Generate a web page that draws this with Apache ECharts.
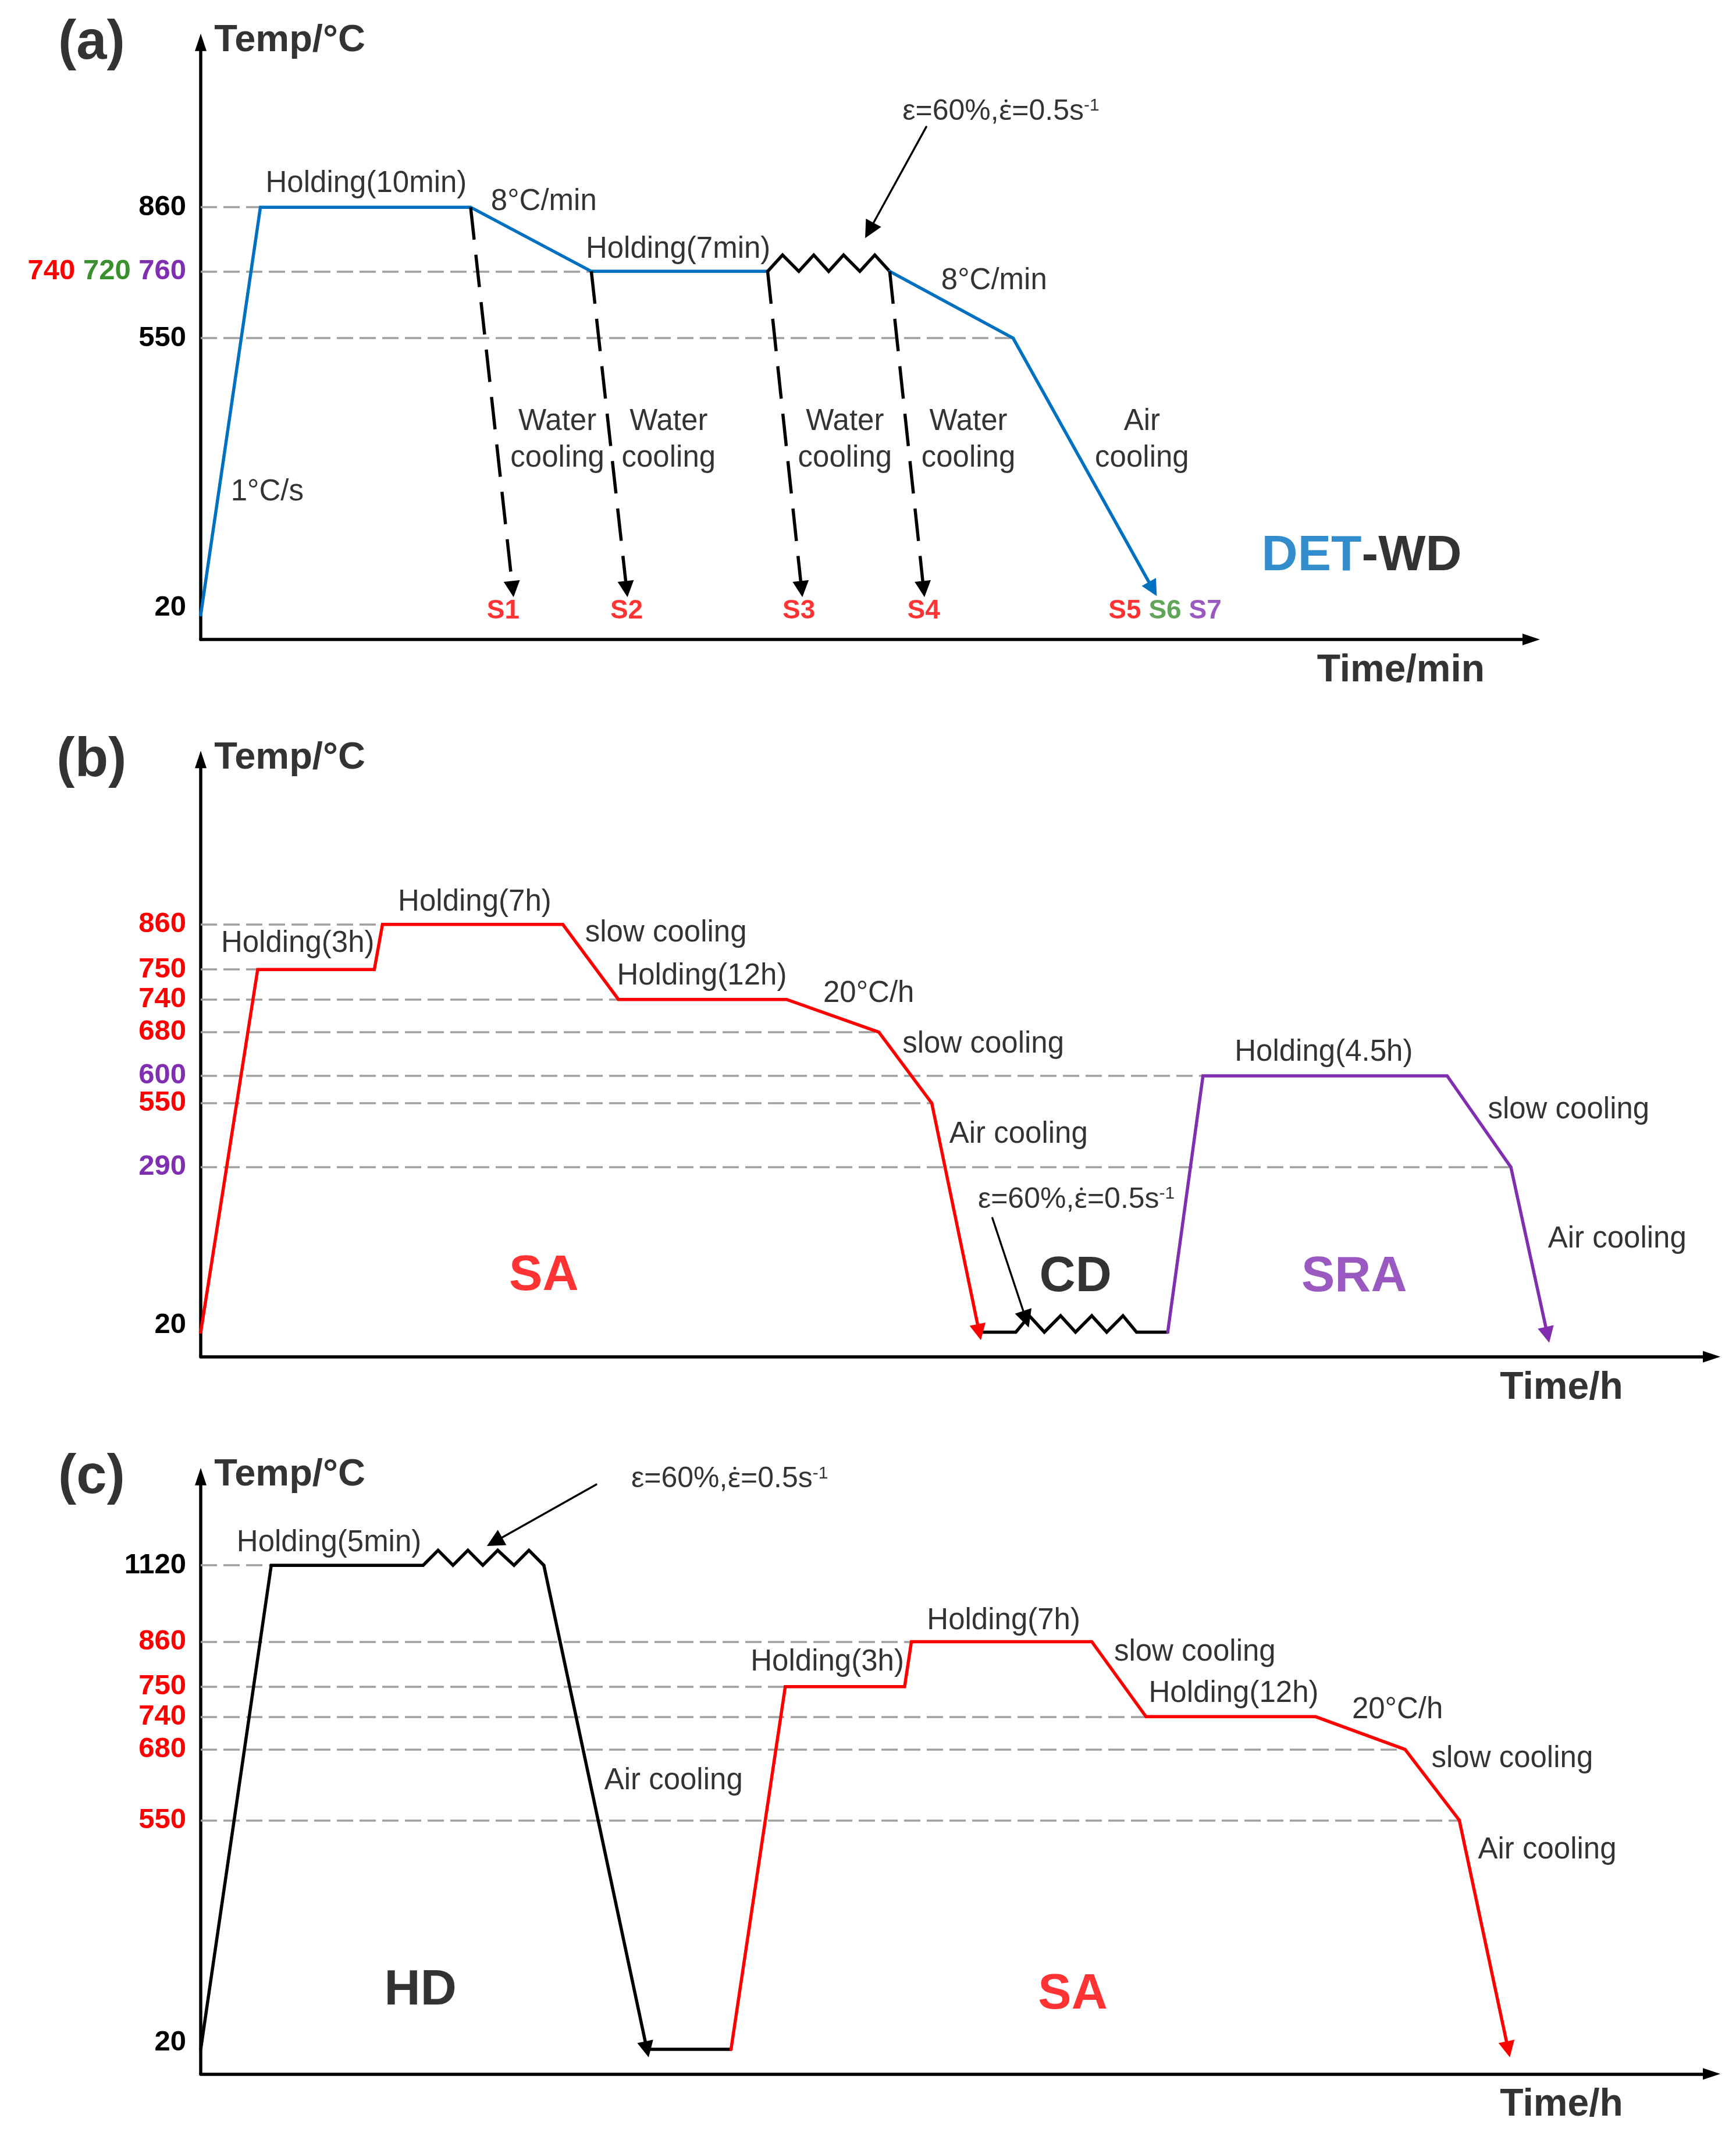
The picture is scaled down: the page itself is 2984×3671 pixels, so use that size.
<!DOCTYPE html>
<html>
<head>
<meta charset="utf-8">
<title>Heat treatment schedules</title>
<script src="https://cdn.jsdelivr.net/npm/echarts@6.0.0/dist/echarts.min.js"></script>
<style>
html,body{margin:0;padding:0;background:#ffffff;width:2984px;height:3671px;overflow:hidden;}
#chart{width:2984px;height:3671px;display:block;}
</style>
</head>
<body>
<div id="chart"></div>
<script>
// ================= DATA =================
// Schematic units: x = position along the time axis, y = level of each temperature on the drawn (non-linear) scale.

// ---- Panel (a): DET-WD ----
const aTickLevels = [18, 221, 270, 317];
const aTickLabels = ['20', '550', '740 720 760', '860'];
const aGuideLevels = [317, 270, 221];
const aGuideEnds = [44, 288, 599];
const aHeating = [[0, 18], [44, 317], [199, 317], [288, 270], [418, 270]];
const aDeform = [[418, 270], [429, 282], [441, 270], [452, 282], [463, 270], [474, 282], [486, 270], [497, 282], [508, 270]];
const aSlowCool = [[508, 270], [599, 221]];
const aAirCool = [[599, 221], [702, 37]];
const aWaterCool = [
  [[199, 317], [230, 37]],
  [[288, 270], [314, 37]],
  [[418, 270], [443, 37]],
  [[508, 270], [533, 37]]
];
const aSampleText = ['S1', 'S2', 'S3', 'S4', 'S5 S6 S7'];
const aSampleX = [223, 314, 441, 533, 711];
const aNoteText = ['Holding(10min)', '8°C/min', 'Holding(7min)', '8°C/min', '1°C/s',
  'Water\ncooling', 'Water\ncooling', 'Water\ncooling', 'Water\ncooling', 'Air\ncooling'];
const aNoteX = [122, 253, 352, 585, 49, 263, 345, 475, 566, 694];
const aNoteY = [334, 321, 286, 263, 108, 146, 146, 146, 146, 146];
const aStrainAt = [590, 387];
const aStrainArrow = [[535, 376], [493, 300]];
const aTagAt = [856, 61];

// ---- Panel (b): SA + CD + SRA ----
const bTickLevels = [18, 139, 186, 206, 238, 262, 284, 317];
const bTickLabels = ['20', '290', '550', '600', '680', '740', '750', '860'];
const bGuideLevels = [317, 284, 262, 238, 206, 186, 139];
const bGuideEnds = [134, 42, 308, 500, 739, 539, 966];
const bSA = [[0, 18], [42, 284], [128, 284], [134, 317], [267, 317], [308, 262], [432, 262], [500, 238], [539, 186]];
const bSAAir = [[539, 186], [574, 18]];
const bCD = [[574, 18], [601, 18], [611, 30], [622, 18], [634, 30], [645, 18], [657, 30], [668, 18], [680, 30], [690, 18], [713, 18]];
const bSRA = [[713, 18], [739, 206], [919, 206], [966, 139]];
const bSRAAir = [[966, 139], [993, 16]];
const bNoteText = ['Holding(3h)', 'Holding(7h)', 'slow cooling', 'Holding(12h)', '20°C/h', 'slow cooling',
  'Air cooling', 'Holding(4.5h)', 'slow cooling', 'Air cooling'];
const bNoteX = [71.5, 202, 343, 369.5, 492.5, 577, 603, 828, 1008.6, 1044.4];
const bNoteY = [303, 333, 310.5, 279, 266, 229, 163, 223, 181, 86];
const bStrainAt = [645.6, 115];
const bStrainArrow = [[583.7, 101.7], [608.5, 27.5]];
const bTagText = ['SA', 'CD', 'SRA'];
const bTagX = [253, 645, 850.5];
const bTagY = [59, 58, 58];

// ---- Panel (c): HD + SA ----
const cTickLevels = [18, 186, 238, 262, 284, 317, 373];
const cTickLabels = ['20', '550', '680', '740', '750', '860', '1120'];
const cGuideLevels = [373, 317, 284, 262, 238, 186];
const cGuideEnds = [52, 524, 431, 697, 888, 928];
const cHD = [[0, 18], [52, 373], [164, 373], [175, 384], [186, 373], [197, 384], [208, 373], [219, 384], [231, 373], [242, 384], [253, 373]];
const cHDAir = [[253, 373], [329, 18]];
const cRoom = [[329, 18], [391, 18]];
const cSA = [[391, 18], [431, 284], [519, 284], [524, 317], [657, 317], [697, 262], [822, 262], [888, 238], [928, 186]];
const cSAAir = [[928, 186], [964, 18]];
const cNoteText = ['Holding(5min)', 'Air cooling', 'Holding(3h)', 'Holding(7h)', 'slow cooling', 'Holding(12h)',
  '20°C/h', 'slow cooling', 'Air cooling'];
const cNoteX = [94.6, 348.6, 462, 592, 733, 761.6, 882.4, 967, 992.8];
const cNoteY = [389.5, 215, 302, 332, 309, 279, 267, 231, 164];
const cStrainAt = [390, 436];
const cStrainArrow = [[291.7, 432.3], [216.6, 390.3]];
const cTagText = ['HD', 'SA'];
const cTagX = [162, 643];
const cTagY = [61, 58];

const panelLetters = ['(a)', '(b)', '(c)'];
const xTitles = ['Time/min', 'Time/h', 'Time/h'];
const yTitle = 'Temp/°C';

// ================= LAYOUT & STYLE =================
const SX = 2984 / 1280;            // px per schematic unit, horizontal
const SY = 2984 / 1280 * 1.0052;   // px per schematic unit, vertical
const FONT = '"Liberation Sans", Arial, Helvetica, sans-serif';
const COL = {k: '#000000', r: '#ff0000', g: '#3a8f2e', p: '#7f2fb0', b: '#0070c0', guide: '#a0a0a0'};
const Y_MAX = 438;
const panelBottom = [469, 995, 1521];
const panelXMax = [981, 1114, 1114];
const tickColors = [
  ['k', 'k', 'rgp', 'k'],
  ['k', 'p', 'r', 'p', 'r', 'r', 'r', 'r'],
  ['k', 'r', 'r', 'r', 'r', 'r', 'k']
];
const tickLevels = [aTickLevels, bTickLevels, cTickLevels];
const tickLabels = [aTickLabels, bTickLabels, cTickLabels];
const TICK_FS = 49;

const tickRich = {};
['k', 'r', 'g', 'p'].forEach(c => {
  tickRich[c] = {color: COL[c], fontFamily: FONT, fontWeight: 'bold', fontSize: TICK_FS};
  tickRich[c + 'low'] = {color: COL[c], fontFamily: FONT, fontWeight: 'bold', fontSize: TICK_FS, padding: [0, 0, 24, 0]};
});

function makeTickFormatter(i) {
  const lv = tickLevels[i], lb = tickLabels[i], cs = tickColors[i];
  return function (v) {
    let idx = 0, best = Infinity;
    lv.forEach((l, j) => { const d = Math.abs(l - v); if (d < best) { best = d; idx = j; } });
    const suffix = idx === 0 ? 'low' : '';
    const parts = lb[idx].split(' ');
    const colors = cs[idx];
    return parts.map((t, j) => '{' + colors[Math.min(j, colors.length - 1)] + suffix + '|' + t + '}').join(' ');
  };
}

const grid = panelBottom.map((b, i) => ({
  left: 148 * SX, top: (b - Y_MAX) * SY, width: panelXMax[i] * SX, height: Y_MAX * SY,
  containLabel: false, outerBoundsMode: 'none'
}));

const axisLineStyle = {show: true, onZero: false, symbol: ['none', 'triangle'], symbolSize: [20, 30], lineStyle: {color: '#000', width: 5.5}};

const xAxis = panelBottom.map((b, i) => ({
  gridIndex: i, type: 'value', min: 0, max: panelXMax[i],
  axisLine: axisLineStyle,
  axisTick: {show: false}, axisLabel: {show: false}, splitLine: {show: false}
}));

const yAxis = panelBottom.map((b, i) => ({
  gridIndex: i, type: 'value', min: 0, max: Y_MAX,
  axisLine: axisLineStyle,
  axisTick: {show: false}, splitLine: {show: false},
  axisLabel: {show: true, customValues: tickLevels[i], formatter: makeTickFormatter(i), margin: 25,
    fontFamily: FONT, fontWeight: 'bold', fontSize: TICK_FS, color: '#000', rich: tickRich}
}));

const LW = 5.5;
function path(gi, data, color, width) {
  return {type: 'line', xAxisIndex: gi, yAxisIndex: gi, data: data, symbol: 'none', showSymbol: false,
    silent: true, z: 3, animation: false, lineStyle: {color: color, width: width || LW, join: 'miter', cap: 'round'}};
}
function segs(gi, list, color, width, dash, arrowSize, z) {
  return {type: 'lines', coordinateSystem: 'cartesian2d', xAxisIndex: gi, yAxisIndex: gi, polyline: false,
    silent: true, z: z || 4, animation: false,
    symbol: arrowSize ? ['none', 'triangle'] : ['none', 'none'], symbolSize: arrowSize || 1,
    lineStyle: {color: color, width: width, type: dash || 'solid', opacity: 1, cap: dash ? 'butt' : 'round'},
    data: list.map(c => ({coords: c}))};
}
function guides(gi, levels, ends) {
  return segs(gi, levels.map((l, j) => [[0, l], [ends[j], l]]), COL.guide, 3.5, [28, 11], null, 2);
}

const strainRich = {
  t: {fontFamily: FONT, fontSize: 50, color: '#000'},
  e: {fontFamily: '"Noto Sans", "DejaVu Sans", sans-serif', fontSize: 48, color: '#000'},
  sup: {fontFamily: FONT, fontSize: 30, color: '#000', verticalAlign: 'top'}
};
const strainText = '{t|ε=60%,}{e|ε\u0307}{t|=0.5s}{sup|-1}';
const colorRich = {
  r: {color: COL.r, fontFamily: FONT, fontWeight: 'bold', fontSize: 46},
  g: {color: COL.g, fontFamily: FONT, fontWeight: 'bold', fontSize: 46},
  p: {color: COL.p, fontFamily: FONT, fontWeight: 'bold', fontSize: 46},
  blue: {color: COL.b, fontFamily: FONT, fontWeight: 'bold', fontSize: 86},
  blk: {color: '#000', fontFamily: FONT, fontWeight: 'bold', fontSize: 86}
};

function txt(x, y, text, style) {
  return {value: [x, y], label: Object.assign({show: true, position: 'inside', formatter: text,
    fontFamily: FONT, color: '#000', align: 'center', verticalAlign: 'middle'}, style)};
}
const noteStyle = {fontSize: 51, lineHeight: 63};
const bigStyle = (c) => ({fontSize: 86, fontWeight: 'bold', color: c});

function textSeries(gi, items) {
  return {type: 'scatter', xAxisIndex: gi, yAxisIndex: gi, symbolSize: 1, itemStyle: {color: 'rgba(0,0,0,0)'},
    clip: false, silent: true, z: 10, animation: false, data: items};
}

function commonTexts(i) {
  return [
    txt(-80.5, 437, panelLetters[i], {fontSize: 94, fontWeight: 'bold'}),
    txt(10, 439, yTitle, {fontSize: 65, fontWeight: 'bold', align: 'left'}),
    txt(i === 0 ? 823 : 958, -23, xTitles[i], {fontSize: 66, fontWeight: 'bold', align: 'left'})
  ];
}
const strainStyle = {fontSize: 50, rich: strainRich};

// ---- text items ----
const aTexts = commonTexts(0)
  .concat(aNoteText.map((t, j) => txt(aNoteX[j], aNoteY[j], t, noteStyle)))
  .concat([txt(aStrainAt[0], aStrainAt[1], strainText, strainStyle)])
  .concat(aSampleText.map((t, j) => txt(aSampleX[j], 21,
    t.split(' ').map((s, k) => '{' + ['r', 'g', 'p'][j < 4 ? 0 : k] + '|' + s + '}').join(' '),
    {fontSize: 46, fontWeight: 'bold', rich: colorRich})))
  .concat([txt(aTagAt[0], aTagAt[1], '{blue|DET}{blk|-WD}', {fontSize: 86, fontWeight: 'bold', rich: colorRich})]);

const bTagColors = [COL.r, COL.k, COL.p];
const bTexts = commonTexts(1)
  .concat(bNoteText.map((t, j) => txt(bNoteX[j], bNoteY[j], t, noteStyle)))
  .concat([txt(bStrainAt[0], bStrainAt[1], strainText, strainStyle)])
  .concat(bTagText.map((t, j) => txt(bTagX[j], bTagY[j], t, bigStyle(bTagColors[j]))));

const cTagColors = [COL.k, COL.r];
const cTexts = commonTexts(2)
  .concat(cNoteText.map((t, j) => txt(cNoteX[j], cNoteY[j], t, noteStyle)))
  .concat([txt(cStrainAt[0], cStrainAt[1], strainText, strainStyle)])
  .concat(cTagText.map((t, j) => txt(cTagX[j], cTagY[j], t, bigStyle(cTagColors[j]))));

const ARROW = [20, 28];
const series = [
  // panel (a)
  guides(0, aGuideLevels, aGuideEnds),
  path(0, aHeating, COL.b),
  path(0, aDeform, COL.k),
  path(0, aSlowCool, COL.b),
  segs(0, [aAirCool], COL.b, LW, null, ARROW),
  segs(0, aWaterCool, COL.k, 5.5, [56, 26], ARROW),
  segs(0, [aStrainArrow], COL.k, 3.4, null, [18, 30]),
  textSeries(0, aTexts),
  // panel (b)
  guides(1, bGuideLevels, bGuideEnds),
  path(1, bSA, COL.r),
  segs(1, [bSAAir], COL.r, LW, null, ARROW),
  path(1, bCD, COL.k),
  path(1, bSRA, COL.p),
  segs(1, [bSRAAir], COL.p, LW, null, ARROW),
  segs(1, [bStrainArrow], COL.k, 3.4, null, [18, 30]),
  textSeries(1, bTexts),
  // panel (c)
  guides(2, cGuideLevels, cGuideEnds),
  path(2, cHD, COL.k),
  segs(2, [cHDAir], COL.k, LW, null, ARROW),
  path(2, cRoom, COL.k),
  path(2, cSA, COL.r),
  segs(2, [cSAAir], COL.r, LW, null, ARROW),
  segs(2, [cStrainArrow], COL.k, 3.4, null, [18, 30]),
  textSeries(2, cTexts)
];

const chart = echarts.init(document.getElementById('chart'), null, {renderer: 'canvas', width: 2984, height: 3671});
chart.setOption({
  animation: false,
  backgroundColor: '#ffffff',
  textStyle: {fontFamily: FONT},
  grid: grid,
  xAxis: xAxis,
  yAxis: yAxis,
  series: series
});
</script>
</body>
</html>
